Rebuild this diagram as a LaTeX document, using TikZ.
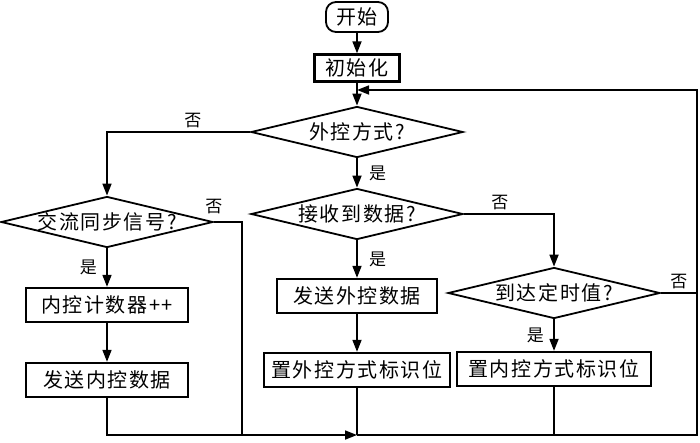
\documentclass[tikz,border=0pt]{standalone}
\usepackage{fontspec}
\setmainfont{Noto Sans CJK SC}[LetterSpace=8]
\usepackage{tikz}
\usetikzlibrary{shapes,arrows}
\usetikzlibrary{arrows.meta}

\begin{document}
\begin{tikzpicture}[font=\fontsize{20}{23}\selectfont]
        \tikzstyle{block} = [rectangle, draw, line width=2.3pt, minimum height=34pt, inner sep=0pt]
        \tikzstyle{startstop} = [rectangle, draw, line width=1.8pt, rounded corners=10pt, minimum width=62pt, minimum height=30pt, inner sep=0pt]
        \tikzstyle{decision} = [diamond, draw, line width=1.8pt, minimum width=212pt, minimum height=51pt, inner sep=0pt]
        \tikzstyle{wire} = [draw, line width=1.7pt]
        \tikzstyle{line} = [wire, -{Triangle[length=12pt, width=9pt]}]
        \tikzstyle{answer} = [font=\fontsize{17}{20}\selectfont]

        \useasboundingbox (0,0) rectangle (700pt,-442pt);

        \node [startstop] (start) at (357pt,-17pt) {开始};
        \node [block, below of=start, node distance=51pt, minimum width=85pt, minimum height=27pt] (init) {初始化};
        \node [decision, below of=init, node distance=64pt, label=center:{外控方式?}] (mode) {};
        \node [decision, below of=mode, node distance=82pt, label=center:{接收到数据?}] (recv) {};
        \node [block, below of=recv, node distance=82pt, minimum width=160pt] (sendext) {发送外控数据};
        \node [block, below of=sendext, node distance=74pt, minimum width=186pt] (setext) {置外控方式标识位};
        \node [decision, below of=mode, node distance=90pt, xshift=-250pt, label=center:{交流同步信号?}] (ac) {};
        \node [block, below of=ac, node distance=83pt, minimum width=162pt] (count) {内控计数器++};
        \node [block, below of=count, node distance=75pt, minimum width=162pt] (sendint) {发送内控数据};
        \node [decision, right of=sendext, node distance=197pt, yshift=3pt, label=center:{到达定时值?}] (timer) {};
        \node [block, below of=timer, node distance=76pt, minimum width=194pt] (setint) {置内控方式标识位};

        \coordinate (merge) at (357pt,-435pt);
        \coordinate (acend) at (242pt,-435pt);
        \coordinate (corner) at (697pt,-435pt);
        \coordinate (timeend) at (697pt,-293pt);
        \coordinate (topright) at (697pt,-90pt);
        \coordinate (back) at (357pt,-90pt);

        \path [line] (start) -- (init);
        \path [line] (init) -- (mode);
        \path [line] (mode.west) -| node[answer, pos=0.2, above] {否} (ac.north);
        \path [line] (mode) -- node[answer, right, xshift=8pt] {是} (recv);
        \path [line] (ac) -- node[answer, left, xshift=-6pt] {是} (count);
        \path [line] (count) -- (sendint);
        \path [wire] (ac.east) node[answer, above, yshift=4pt] {否} -| (acend);
        \path [line] (recv) -- node[answer, right, xshift=8pt] {是} (sendext);
        \path [line] (recv.east) -| node[answer, pos=0.2, above] {否} (timer.north);
        \path [line] (sendext) -- (setext);
        \path [line] (timer) -- node[answer, left, xshift=-6pt] {是} (setint);
        \path [wire] (timer.east) -- node[answer, midway, above] {否} (timeend);
        \path [line] (sendint) |- (merge);
        \path [wire] (setext) -- (merge);
        \path [wire] (setint) -- (setint |- merge);
        \path [line] (merge) -- (corner) -- (topright) -- (back);
    \end{tikzpicture}
\end{document}
